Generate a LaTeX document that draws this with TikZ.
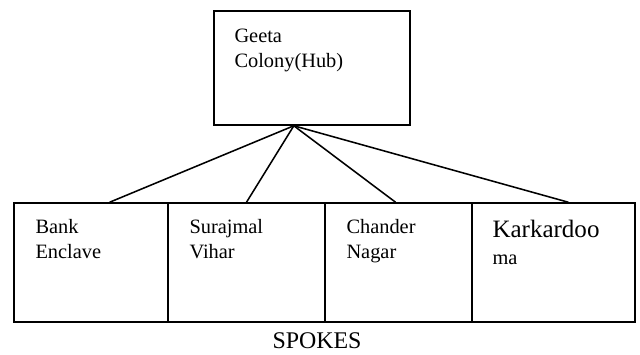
\documentclass[tikz,border=0pt]{standalone}
\usepackage{fontspec}
\setmainfont{Liberation Serif}
\usepackage{tikz}
\usetikzlibrary{positioning, calc}
\tikzset{
    % the hub, one large box at the top
    hubbox/.style={draw, line width=1.1pt, minimum width=4.9cm, minimum height=2.85cm},
    % the spokes, boxes side by side in one row
    spokebox/.style={draw, line width=1.1pt, minimum height=2.975cm},
    % names written in the top left corner of a box
    boxtext/.style={inner sep=0pt, align=left, font=\fontsize{14.5}{17.8}\selectfont},
    % plain lines from hub to spokes
    link/.style={line width=1.1pt},
}

\begin{document}
\begin{tikzpicture}

    \useasboundingbox (0, 0) rectangle (16, 8.85);

    % ---- hub ----
    \node[hubbox] (hub) at (7.8, 7.15) {};
    \node[boxtext, below right=0.45cm and 0.525cm of hub.north west] (hubtxt)
        {Geeta\\Colony(Hub)};

    % ---- spokes ----
    \node[spokebox, minimum width=3.85cm]  (b1) at (2.275, 2.2875)   {};
    \node[spokebox, minimum width=3.925cm] (b2) at (6.1625, 2.2875)  {};
    \node[spokebox, minimum width=3.675cm] (b3) at (9.9625, 2.2875)  {};
    \node[spokebox, minimum width=4.075cm] (b4) at (13.8375, 2.2875) {};

    \node[boxtext, below right=0.425cm and 0.55cm of b1.north west] (t1) {Bank\\Enclave};
    \node[boxtext, below right=0.425cm and 0.55cm of b2.north west] (t2) {Surajmal\\Vihar};
    \node[boxtext, below right=0.425cm and 0.55cm of b3.north west] (t3) {Chander\\Nagar};
    \node[boxtext, font=\fontsize{14.5}{19.2}\selectfont,
          below right=0.43cm and 0.525cm of b4.north west] (t4)
        {{\fontsize{17.8}{19.2}\selectfont Karkardoo}\\ma};

    % ---- links: all meet at one point under the hub ----
    \coordinate (apex) at ($(hub.south west)!0.408!(hub.south east)$);
    \draw[link] (apex) -- ($(b1.north west)!0.62!(b1.north east)$);
    \draw[link] (apex) -- ($(b2.north west)!0.50!(b2.north east)$);
    \draw[link] (apex) -- ($(b3.north west)!0.48!(b3.north east)$);
    \draw[link] (apex) -- ($(b4.north west)!0.59!(b4.north east)$);

    \node[anchor=base, font=\fontsize{17}{20}\selectfont] (spokes) at (7.925, 0.13) {SPOKES};

\end{tikzpicture}
\end{document}
